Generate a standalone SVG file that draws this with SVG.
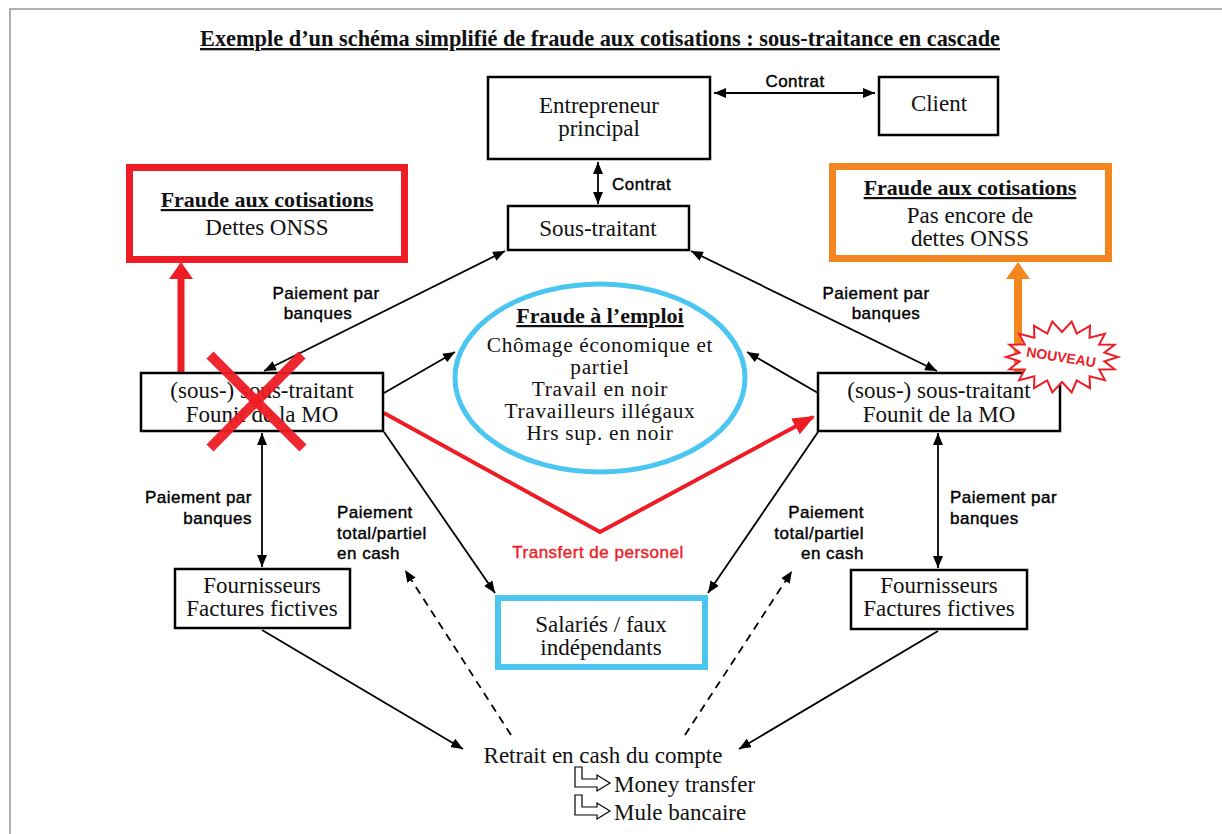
<svg xmlns="http://www.w3.org/2000/svg" width="1222" height="834" viewBox="0 0 1222 834">
<defs>
<style>
.serif{font-family:"Liberation Serif","Times New Roman",serif;font-size:23px;fill:#111;}
.c{text-anchor:middle;}
.b{font-weight:bold;text-decoration:underline;font-size:22px;}
.e{font-size:21.3px;letter-spacing:0.7px;}
.sans{font-family:"Liberation Sans",Arial,sans-serif;font-size:17px;letter-spacing:0.5px;fill:#000;stroke:#000;stroke-width:0.4px;}
.box{fill:#fff;stroke:#000;stroke-width:2.5;}
.ln{fill:none;stroke:#000;stroke-width:1.8;}
.dash{fill:none;stroke:#000;stroke-width:1.8;stroke-dasharray:8 6;}
</style>
<marker id="ah" viewBox="0 0 12 10" refX="12" refY="5" markerWidth="12" markerHeight="10" markerUnits="userSpaceOnUse" orient="auto-start-reverse">
<path d="M0,0 L12,5 L0,10 Z" fill="#000"/>
</marker>
<marker id="rh" viewBox="0 0 22 18" refX="20" refY="9" markerWidth="22" markerHeight="18" markerUnits="userSpaceOnUse" orient="auto">
<path d="M0,0 L22,9 L0,18 Z" fill="#ee1c25"/>
</marker>
</defs>
<rect width="1222" height="834" fill="#fff"/>
<path d="M10,834 V9 H1222" fill="none" stroke="#b0b0b0" stroke-width="2"/>

<text class="serif c" x="600" y="46" font-weight="bold" font-size="21" text-decoration="underline" textLength="800" lengthAdjust="spacingAndGlyphs">Exemple d’un schéma simplifié de fraude aux cotisations : sous-traitance en cascade</text>

<g id="connectors">
<line class="ln" x1="714" y1="93" x2="875" y2="93" marker-start="url(#ah)" marker-end="url(#ah)"/>
<line class="ln" x1="598" y1="162" x2="598" y2="204" marker-start="url(#ah)" marker-end="url(#ah)"/>
<line class="ln" x1="505" y1="251" x2="264" y2="371" marker-start="url(#ah)" marker-end="url(#ah)"/>
<line class="ln" x1="691" y1="251" x2="937" y2="371" marker-start="url(#ah)" marker-end="url(#ah)"/>
<line class="ln" x1="384" y1="393" x2="455" y2="352" marker-end="url(#ah)"/>
<line class="ln" x1="818" y1="393" x2="747" y2="352" marker-end="url(#ah)"/>
<line class="ln" x1="384" y1="432" x2="495" y2="593" marker-end="url(#ah)"/>
<line class="ln" x1="818" y1="432" x2="708" y2="593" marker-end="url(#ah)"/>
<line class="ln" x1="262" y1="433" x2="262" y2="567" marker-start="url(#ah)" marker-end="url(#ah)"/>
<line class="ln" x1="938" y1="433" x2="938" y2="568" marker-start="url(#ah)" marker-end="url(#ah)"/>
<line class="ln" x1="262" y1="630" x2="463" y2="749" marker-end="url(#ah)"/>
<line class="ln" x1="938" y1="631" x2="739" y2="749" marker-end="url(#ah)"/>
<line class="dash" x1="511" y1="735" x2="405" y2="570" marker-end="url(#ah)"/>
<line class="dash" x1="685" y1="735" x2="792" y2="571" marker-end="url(#ah)"/>
<polyline points="384,413 600,532 813,417" fill="none" stroke="#ee1c25" stroke-width="4" marker-end="url(#rh)"/>
<rect x="177.5" y="276" width="7" height="96" fill="#ee1c25"/>
<path d="M169,279 L193,279 L181,262 Z" fill="#ee1c25"/>
<rect x="1014" y="276" width="8" height="96" fill="#f5861f"/>
<path d="M1006,279 L1030,279 L1018,262 Z" fill="#f5861f"/>

<text class="sans" x="795" y="87" text-anchor="middle">Contrat</text>
<text class="sans" x="612" y="190">Contrat</text>
<text class="sans" x="326" y="299" text-anchor="middle">Paiement par</text>
<text class="sans" x="318" y="319" text-anchor="middle">banques</text>
<text class="sans" x="876" y="299" text-anchor="middle">Paiement par</text>
<text class="sans" x="886" y="319" text-anchor="middle">banques</text>
<text class="sans" x="252" y="503" text-anchor="end">Paiement par</text>
<text class="sans" x="252" y="524" text-anchor="end">banques</text>
<text class="sans" x="950" y="503">Paiement par</text>
<text class="sans" x="950" y="524">banques</text>
<text class="sans" x="337" y="518">Paiement</text>
<text class="sans" x="337" y="539">total/partiel</text>
<text class="sans" x="337" y="559">en cash</text>
<text class="sans" x="864" y="518" text-anchor="end">Paiement</text>
<text class="sans" x="864" y="539" text-anchor="end">total/partiel</text>
<text class="sans" x="864" y="559" text-anchor="end">en cash</text>
<text class="sans" x="598" y="558" text-anchor="middle" style="fill:#ee1c25;stroke:#ee1c25">Transfert de personel</text>
</g>

<g id="entrepreneur">
<rect class="box" x="488" y="77" width="222" height="82"/>
<text class="serif c" x="599" y="113">Entrepreneur</text>
<text class="serif c" x="599" y="136">principal</text>
</g>
<g id="client">
<rect class="box" x="879" y="77" width="119" height="58"/>
<text class="serif c" x="939" y="111">Client</text>
</g>
<g id="sous-traitant">
<rect class="box" x="508" y="206" width="181" height="44"/>
<text class="serif c" x="598" y="236">Sous-traitant</text>
</g>
<g id="fraude-cotisations-gauche">
<rect x="129.5" y="167.5" width="275" height="92" fill="#fff" stroke="#ee1c25" stroke-width="7"/>
<text class="serif c b" x="267" y="207">Fraude aux cotisations</text>
<text class="serif c" x="267" y="235">Dettes ONSS</text>
</g>
<g id="fraude-cotisations-droite">
<rect x="832.5" y="166.5" width="276" height="92" fill="#fff" stroke="#f5861f" stroke-width="7"/>
<text class="serif c b" x="970" y="195">Fraude aux cotisations</text>
<text class="serif c" x="970" y="223">Pas encore de</text>
<text class="serif c" x="970" y="246">dettes ONSS</text>
</g>
<g id="fraude-emploi">
<ellipse cx="600" cy="378" rx="145" ry="94" fill="#fff" stroke="#4ac6f1" stroke-width="5"/>
<text class="serif c b" x="600" y="323">Fraude à l’emploi</text>
<text class="serif c e" x="600" y="352">Chômage économique et</text>
<text class="serif c e" x="600" y="374">partiel</text>
<text class="serif c e" x="600" y="396">Travail en noir</text>
<text class="serif c e" x="600" y="418">Travailleurs illégaux</text>
<text class="serif c e" x="600" y="440">Hrs sup. en noir</text>
</g>
<g id="sous-sous-traitant-gauche">
<rect class="box" x="141" y="373" width="242" height="58"/>
<text class="serif c" x="262" y="398">(sous-) sous-traitant</text>
<text class="serif c" x="262" y="422">Founit de la MO</text>
<line x1="210" y1="355" x2="303" y2="448" stroke="#ee1c25" stroke-width="10" stroke-opacity="0.95"/>
<line x1="302" y1="355" x2="210" y2="448" stroke="#ee1c25" stroke-width="10" stroke-opacity="0.95"/>
</g>
<g id="sous-sous-traitant-droite">
<rect class="box" x="818" y="373" width="242" height="58"/>
<text class="serif c" x="939" y="398">(sous-) sous-traitant</text>
<text class="serif c" x="939" y="422">Founit de la MO</text>
</g>
<g id="nouveau">
<polygon points="1118,357 1104.4,361.3 1114.6,369.3 1099.2,369.5 1104.9,380.1 1089.6,376.2 1090,388.2 1076.7,380.5 1071.7,392.5 1062,382 1052.3,392.5 1047.3,380.5 1034,388.2 1034.4,376.2 1019.1,380.1 1024.8,369.5 1009.4,369.3 1019.6,361.3 1006,357 1019.6,352.7 1009.4,344.7 1024.8,344.5 1019.1,333.9 1034.4,337.8 1034,325.8 1047.3,333.5 1052.3,321.5 1062,332 1071.7,321.5 1076.7,333.5 1090,325.8 1089.6,337.8 1104.9,333.9 1099.2,344.5 1114.6,344.7 1104.4,352.7" fill="#fff" stroke="#ee1c25" stroke-width="2"/>
<text x="1061" y="362" text-anchor="middle" transform="rotate(9 1061 358)" font-family="'Liberation Sans',Arial,sans-serif" font-weight="bold" font-size="14" fill="#ee1c25">NOUVEAU</text>
</g>
<g id="fournisseurs-gauche">
<rect class="box" x="175" y="569" width="175" height="59"/>
<text class="serif c" x="262" y="593">Fournisseurs</text>
<text class="serif c" x="262" y="616">Factures fictives</text>
</g>
<g id="fournisseurs-droite">
<rect class="box" x="851" y="570" width="176" height="59"/>
<text class="serif c" x="939" y="593">Fournisseurs</text>
<text class="serif c" x="939" y="616">Factures fictives</text>
</g>
<g id="salaries">
<rect x="498" y="598" width="207" height="69" fill="#fff" stroke="#4ac6f1" stroke-width="6"/>
<text class="serif c" x="601" y="632">Salariés / faux</text>
<text class="serif c" x="601" y="655">indépendants</text>
</g>
<g id="retrait">
<text class="serif c" x="603" y="763">Retrait en cash du compte</text>
<path d="M575,767 h7 v12 h15 v-4 l13,8 l-13,8 v-4 h-22 z" fill="#fff" stroke="#000" stroke-width="1.2"/>
<text class="serif" x="614" y="792">Money transfer</text>
<path d="M575,795 h7 v12 h15 v-4 l13,8 l-13,8 v-4 h-22 z" fill="#fff" stroke="#000" stroke-width="1.2"/>
<text class="serif" x="614" y="820">Mule bancaire</text>
</g>
</svg>
